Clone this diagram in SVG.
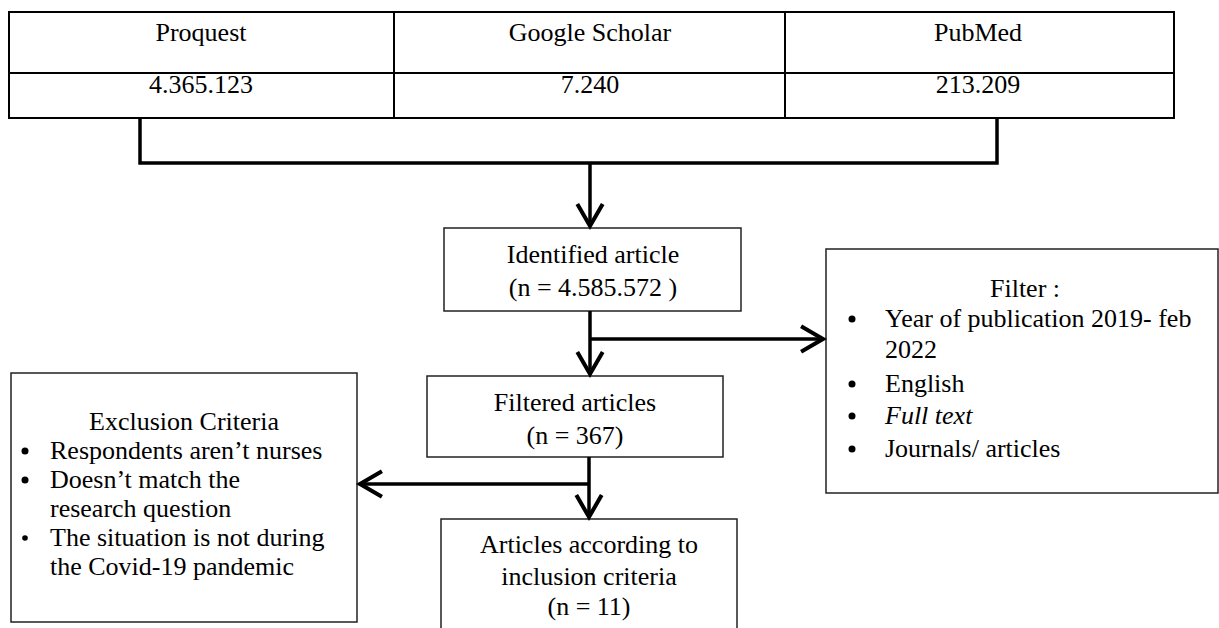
<svg xmlns="http://www.w3.org/2000/svg" width="1219" height="628" viewBox="0 0 1219 628">
<style>
text{font-family:"Liberation Serif","Times New Roman",serif;font-size:26px;fill:#000}
.c{text-anchor:middle}
.box{fill:#fff;stroke:#222;stroke-width:1.5}
.tbl{fill:none;stroke:#000;stroke-width:2}
.con{fill:none;stroke:#000;stroke-width:3.5}
</style>
<defs>
<marker id="arr" markerUnits="userSpaceOnUse" markerWidth="30" markerHeight="30" viewBox="-22 -13 26 26" refX="0" refY="0" orient="auto">
<path d="M-19,-11 L0,0 L-19,11" fill="none" stroke="#000" stroke-width="3.5"/>
</marker>
</defs>
<rect width="1219" height="628" fill="#fff"/>

<g id="table">
<rect class="tbl" x="9" y="12" width="1165" height="106"/>
<line class="tbl" x1="9" y1="73" x2="1174" y2="73"/>
<line class="tbl" x1="394" y1="12" x2="394" y2="118"/>
<line class="tbl" x1="785" y1="12" x2="785" y2="118"/>
<text class="c" x="201" y="41">Proquest</text>
<text class="c" x="590" y="41">Google Scholar</text>
<text class="c" x="978" y="41">PubMed</text>
<text class="c" x="201" y="93">4.365.123</text>
<text class="c" x="590" y="93">7.240</text>
<text class="c" x="978" y="93">213.209</text>
</g>

<g id="identified">
<rect class="box" x="444" y="228" width="297" height="83"/>
<text class="c" x="593" y="263">Identified article</text>
<text class="c" x="593" y="296">(n = 4.585.572 )</text>
</g>

<g id="filter">
<rect class="box" x="826" y="249" width="392" height="244"/>
<text class="c" x="1025" y="297">Filter :</text>
<circle cx="852" cy="319" r="3.5"/>
<text x="885" y="327">Year of publication 2019- feb</text>
<text x="885" y="358">2022</text>
<circle cx="852" cy="384" r="3.5"/>
<text x="885" y="392">English</text>
<circle cx="852" cy="416" r="3.5"/>
<text x="885" y="424" font-style="italic">Full text</text>
<circle cx="852" cy="449" r="3.5"/>
<text x="885" y="457">Journals/ articles</text>
</g>

<g id="filtered">
<rect class="box" x="427" y="376" width="296" height="81"/>
<text class="c" x="575" y="411">Filtered articles</text>
<text class="c" x="575" y="444">(n = 367)</text>
</g>

<g id="exclusion">
<rect class="box" x="11" y="373" width="346" height="249"/>
<text class="c" x="184" y="430">Exclusion Criteria</text>
<circle cx="25" cy="451" r="3.5"/>
<text x="50" y="459">Respondents aren’t nurses</text>
<circle cx="25" cy="480" r="3.5"/>
<text x="50" y="488">Doesn’t match the</text>
<text x="50" y="517">research question</text>
<circle cx="25" cy="538" r="2.8"/>
<text x="50" y="546">The situation is not during</text>
<text x="50" y="575">the Covid-19 pandemic</text>
</g>

<g id="included">
<rect class="box" x="441" y="519" width="296" height="130"/>
<text class="c" x="589" y="553">Articles according to</text>
<text class="c" x="589" y="585">inclusion criteria</text>
<text class="c" x="589" y="615">(n = 11)</text>
</g>

<g id="connectors">
<path class="con" d="M140,118 V163 H997 V118"/>
<path class="con" d="M590,163 V226" marker-end="url(#arr)"/>
<path class="con" d="M590,311 V374" marker-end="url(#arr)"/>
<path class="con" d="M590,339 H823" marker-end="url(#arr)"/>
<path class="con" d="M589,457 V517" marker-end="url(#arr)"/>
<path class="con" d="M589,484 H360" marker-end="url(#arr)"/>
</g>
</svg>
